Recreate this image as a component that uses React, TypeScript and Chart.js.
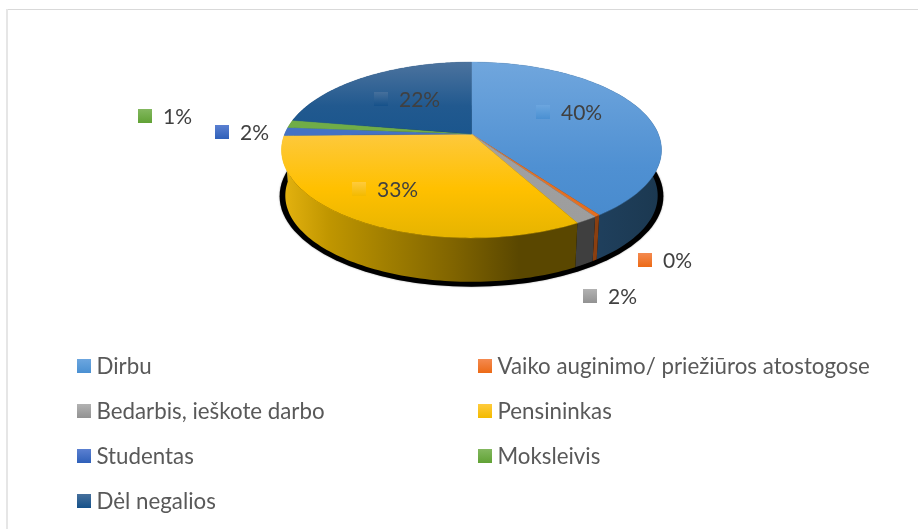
import React, { useEffect, useRef } from "react";
import { Chart, registerables } from "chart.js";

Chart.register(...registerables);

const categories = [
  "Dirbu",
  "Vaiko auginimo/ priežiūros atostogose",
  "Bedarbis, ieškote darbo",
  "Pensininkas",
  "Studentas",
  "Moksleivis",
  "Dėl negalios",
];
const shares = [40.1, 0.4, 1.6, 32.6, 1.55, 1.4, 22.35];
const baseColors = ["#5b9bd5", "#ed7d31", "#a5a5a5", "#ffc000", "#4472c4", "#70ad47", "#1a5690"];

const topStops: [number, string][][] = [
  [[0, "#70a6dd"], [0.6, "#4f90d2"], [1, "#4689cc"]],
  [[0, "#ed7d31"], [1, "#e36c1c"]],
  [[0, "#a5a5a5"], [1, "#9c9c9c"]],
  [[0.4, "#fdc93e"], [0.72, "#ffc000"], [1, "#e6b400"]],
  [[0, "#4472c4"], [1, "#4472c4"]],
  [[0, "#70ad47"], [1, "#70ad47"]],
  [[0, "#4c739e"], [0.25, "#21598f"], [0.5, "#17548c"]],
];
const sideStops: [number, string][][] = [
  [[0.6, "#20415f"], [1, "#1b3850"]],
  [[0, "#8a3f10"], [1, "#8a3f10"]],
  [[0, "#3f3f3f"], [1, "#3f3f3f"]],
  [[0, "#e6b410"], [0.16, "#c09600"], [0.36, "#a07e00"], [0.58, "#806400"], [0.8, "#5a4700"], [1, "#5a4700"]],
  [[0, "#2f5597"], [1, "#2f5597"]],
  [[0, "#4e7a32"], [1, "#4e7a32"]],
  [[0, "#123c64"], [1, "#123c64"]],
];
const swatchStops = [
  ["#6ca6df", "#4a90d2"],
  ["#f48a50", "#ec6a16"],
  ["#b2b2b2", "#929292"],
  ["#ffcb3c", "#f3ba00"],
  ["#5b80d1", "#2f60b9"],
  ["#83b85f", "#61a235"],
  ["#46709c", "#15518a"],
];

// layout of the percentage labels (swatch left edge, swatch top) per slice
const labelSpots = [
  [536, 105],
  [638, 253],
  [583, 289],
  [352, 182],
  [215, 125],
  [138, 109],
  [374, 92],
];
const legendColumns = [77, 478];
const legendTop = 359;
const legendStep = 45;
const FONT = "Lato, 'Noto Sans', sans-serif";

const k = 0.1818;
const stretch = 2.198;
const bottomScale = 0.98;
const depth = 46;
const STEPS = 90;

const pie3d = {
  id: "pie3d",
  beforeDatasetDraw(chart: any) {
    const ctx: CanvasRenderingContext2D = chart.ctx;
    const arcs = chart.getDatasetMeta(0).data;
    if (!arcs.length) return false;
    const cx = arcs[0].x;
    const cy = arcs[0].y;
    const R = arcs[0].outerRadius;

    const rim = (a: number, s: number, dy: number) => {
      const X = Math.cos(a);
      const Y = Math.sin(a);
      const d = 1 - k * Y;
      return [cx + (s * stretch * R * X) / d, cy + dy + (s * R * Y) / d];
    };
    const grad = (x0: number, y0: number, x1: number, y1: number, stops: [number, string][]) => {
      const g = ctx.createLinearGradient(x0, y0, x1, y1);
      stops.forEach(([o, c]) => g.addColorStop(o, c));
      return g;
    };

    ctx.save();
    // contact shadow below the pie
    ctx.fillStyle = "#000";
    ctx.shadowColor = "rgba(0,0,0,0.5)";
    ctx.shadowBlur = 1.5;
    ctx.beginPath();
    const sTop = rim(-Math.PI / 2, bottomScale, depth);
    const sBot = rim(Math.PI / 2, bottomScale, depth);
    const wide = stretch * R * 1.027;
    ctx.ellipse(cx, (sTop[1] + sBot[1]) / 2 + 0.5, wide, (sBot[1] - sTop[1]) / 2 + 4.5, 0, 0, Math.PI * 2);
    ctx.fill();
    ctx.restore();

    // side walls, back ones first
    const order = arcs
      .map((_: any, i: number) => i)
      .sort((p: number, q: number) => {
        const m = (i: number) => Math.sin((arcs[i].startAngle + arcs[i].endAngle) / 2);
        return m(p) - m(q);
      });
    order.forEach((i: number) => {
      const { startAngle, endAngle } = arcs[i];
      ctx.beginPath();
      for (let n = 0; n <= STEPS; n++) {
        const [x, y] = rim(startAngle + ((endAngle - startAngle) * n) / STEPS, 1, 0);
        n ? ctx.lineTo(x, y) : ctx.moveTo(x, y);
      }
      for (let n = STEPS; n >= 0; n--) {
        const [x, y] = rim(startAngle + ((endAngle - startAngle) * n) / STEPS, bottomScale, depth);
        ctx.lineTo(x, y);
      }
      ctx.closePath();
      ctx.fillStyle = grad(cx - stretch * R * 1.02, 0, cx + 107, 0, sideStops[i]);
      if (i === 0) ctx.fillStyle = grad(cx, 0, cx + stretch * R * 1.02, 0, sideStops[i]);
      ctx.fill();
    });

    // top faces
    const top = rim(-Math.PI / 2, 1, 0)[1];
    const bot = rim(Math.PI / 2, 1, 0)[1];
    arcs.forEach((arc: any, i: number) => {
      ctx.beginPath();
      ctx.moveTo(cx, cy);
      for (let n = 0; n <= STEPS; n++) {
        const [x, y] = rim(arc.startAngle + ((arc.endAngle - arc.startAngle) * n) / STEPS, 1, 0);
        ctx.lineTo(x, y);
      }
      ctx.closePath();
      const fill = grad(0, top, 0, bot, topStops[i]);
      ctx.fillStyle = fill;
      ctx.fill();
      ctx.strokeStyle = fill;
      ctx.lineWidth = 0.4;
      ctx.stroke();
    });
    return false;
  },
  afterDatasetsDraw(chart: any) {
    const ctx: CanvasRenderingContext2D = chart.ctx;
    const values: number[] = chart.data.datasets[0].data;
    const total = values.reduce((s, v) => s + v, 0);
    const swatch = (x: number, y: number, i: number) => {
      const g = ctx.createLinearGradient(0, y, 0, y + 14);
      g.addColorStop(0, swatchStops[i][0]);
      g.addColorStop(1, swatchStops[i][1]);
      ctx.fillStyle = g;
      ctx.fillRect(x, y, 14, 14);
    };
    ctx.save();
    ctx.textBaseline = "middle";
    ctx.textAlign = "left";
    // percentage labels
    ctx.font = `21px ${FONT}`;
    values.forEach((v, i) => {
      const [x, y] = labelSpots[i];
      swatch(x, y, i);
      ctx.fillStyle = "#404040";
      ctx.fillText(`${Math.round((v / total) * 100)}%`, x + 25, y + 8);
    });
    // legend in two columns
    ctx.font = `22.3px ${FONT}`;
    chart.data.labels.forEach((label: string, i: number) => {
      const x = legendColumns[i % 2];
      const y = legendTop + Math.floor(i / 2) * legendStep;
      swatch(x, y, i);
      ctx.fillStyle = "#595959";
      ctx.fillText(label, x + 19.5, y + 7.5);
    });
    ctx.restore();
  },
  beforeDraw(chart: any) {
    const ctx: CanvasRenderingContext2D = chart.ctx;
    ctx.save();
    ctx.fillStyle = "#fff";
    ctx.fillRect(0, 0, chart.width, chart.height);
    ctx.fillStyle = "#d9d9d9";
    ctx.fillRect(6, 9, chart.width - 6, 1);
    ctx.fillStyle = "#e6e6e6";
    ctx.fillRect(6, 9, 2, chart.height - 9);
    ctx.restore();
  },
};

export default function App() {
  const ref = useRef<HTMLCanvasElement>(null);
  useEffect(() => {
    document.body.style.margin = "0";
    const chart = new Chart(ref.current!, {
      type: "pie",
      data: {
        labels: categories,
        datasets: [{ data: shares, backgroundColor: baseColors, borderWidth: 0 }],
      },
      options: {
        responsive: false,
        animation: false,
        layout: { padding: { left: 25, right: 0, top: 49, bottom: 310 } },
        plugins: { legend: { display: false }, tooltip: { enabled: false } },
      },
      plugins: [pie3d],
    } as any);
    return () => chart.destroy();
  }, []);
  return <canvas ref={ref} width={918} height={529} style={{ display: "block" }} />;
}
